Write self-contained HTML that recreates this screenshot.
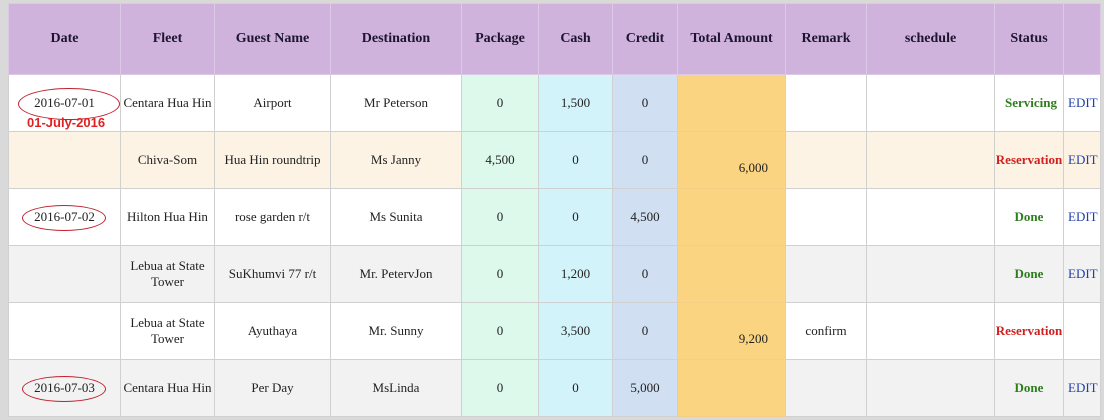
<!DOCTYPE html>
<html><head><meta charset="utf-8"><style>
html,body{margin:0;padding:0;width:1104px;height:420px;overflow:hidden;background:#d9d9d9;}
table{position:absolute;left:8px;top:3px;border-collapse:collapse;table-layout:fixed;font-family:"Liberation Serif",serif;font-size:13px;color:#222;background:#fff;}
td,th{border:1px solid #d0d0d0;text-align:center;vertical-align:middle;padding:0;overflow:visible;position:relative;white-space:normal;}
th{background:#cfb3dc;height:70px;font-size:14px;font-weight:bold;color:#1d1530;border-color:#dcc9e6;}
tr{height:57px;}
td{height:56px;}
.t{text-align:right;padding-right:17px;}
.t span{position:relative;top:8px;}
tr.a td{background:#fdf3e5;} tr.g td{background:#f2f2f2;}
tr td.p{background:#dcf9ec;} tr td.c{background:#d2f3fa;} tr td.cr{background:#d0e0f2;} tr td.t{background:#fad481;border-color:#f3cf85;}
.ok{color:#2e7d1e;font-weight:bold;font-size:13px;white-space:nowrap;}
.rs{color:#d02020;font-weight:bold;font-size:13px;white-space:nowrap;}
.e{color:#1f3fa8;font-size:13px;text-align:left;padding-left:4px;}
.el{position:absolute;left:13px;width:82px;height:24px;border:1px solid #c02030;border-radius:50%;top:16px;}
.el.big{left:9px;width:100px;height:30px;top:13px;}
.red{position:absolute;left:18px;top:40px;color:#e02020;font-family:"Liberation Sans",sans-serif;font-weight:bold;font-size:13px;}
</style></head><body>
<table>
<colgroup><col style="width:112px"><col style="width:94px"><col style="width:116px"><col style="width:131px"><col style="width:77px"><col style="width:74px"><col style="width:65px"><col style="width:108px"><col style="width:81px"><col style="width:128px"><col style="width:69px"><col style="width:37px"></colgroup>
<tr style="height:71px"><th>Date</th><th>Fleet</th><th>Guest Name</th><th>Destination</th><th>Package</th><th>Cash</th><th>Credit</th><th>Total Amount</th><th>Remark</th><th>schedule</th><th>Status</th><th></th></tr>
<tr><td><div class="el big"></div>2016-07-01<div class="red">01-July-2016</div></td><td>Centara Hua Hin</td><td>Airport</td><td>Mr Peterson</td><td class="p">0</td><td class="c">1,500</td><td class="cr">0</td><td class="t"></td><td></td><td></td><td class="ok" style="text-align:right;padding-right:6px">Servicing</td><td class="e">EDIT</td></tr>
<tr class="a"><td></td><td>Chiva-Som</td><td>Hua Hin roundtrip</td><td>Ms Janny</td><td class="p">4,500</td><td class="c">0</td><td class="cr">0</td><td class="t"><span>6,000</span></td><td></td><td></td><td class="rs">Reservation</td><td class="e">EDIT</td></tr>
<tr><td><div class="el"></div>2016-07-02</td><td>Hilton Hua Hin</td><td>rose garden r/t</td><td>Ms Sunita</td><td class="p">0</td><td class="c">0</td><td class="cr">4,500</td><td class="t"></td><td></td><td></td><td class="ok">Done</td><td class="e">EDIT</td></tr>
<tr class="g"><td></td><td>Lebua at State Tower</td><td>SuKhumvi 77 r/t</td><td>Mr. PetervJon</td><td class="p">0</td><td class="c">1,200</td><td class="cr">0</td><td class="t"></td><td></td><td></td><td class="ok">Done</td><td class="e">EDIT</td></tr>
<tr><td></td><td>Lebua at State Tower</td><td>Ayuthaya</td><td>Mr. Sunny</td><td class="p">0</td><td class="c">3,500</td><td class="cr">0</td><td class="t"><span>9,200</span></td><td>confirm</td><td></td><td class="rs">Reservation</td><td></td></tr>
<tr class="g"><td><div class="el"></div>2016-07-03</td><td>Centara Hua Hin</td><td>Per Day</td><td>MsLinda</td><td class="p">0</td><td class="c">0</td><td class="cr">5,000</td><td class="t"></td><td></td><td></td><td class="ok">Done</td><td class="e">EDIT</td></tr>
</table>
</body></html>
